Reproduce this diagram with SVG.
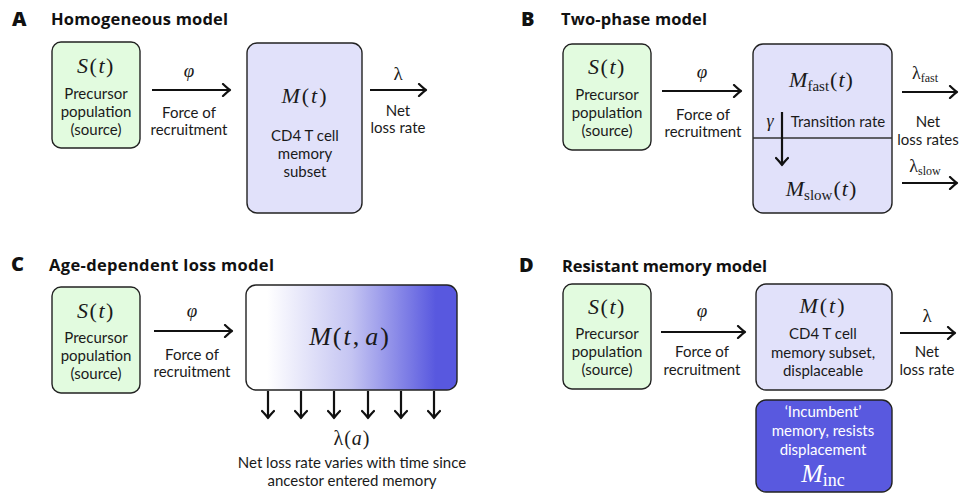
<svg xmlns="http://www.w3.org/2000/svg" width="972" height="493" viewBox="0 0 972 493">
  <defs>
    <style>
      .bg { fill: #ffffff; }
      .src { fill: #e2fbdf; stroke: #222; stroke-width: 1.4; }
      .mem { fill: #e1e1fa; stroke: #222; stroke-width: 1.4; }
      .inc { fill: #5959df; stroke: #222; stroke-width: 1.4; }
      .age { fill: url(#ageGrad); stroke: #222; stroke-width: 1.4; }
      .lbl { font-family: Lato, "Liberation Sans", sans-serif; font-size: 15px; fill: #1a1a1a; text-anchor: middle; }
      .wlbl { fill: #ffffff; }
      .math { font-family: "Liberation Serif", "Times New Roman", serif; font-style: italic; fill: #1a1a1a; text-anchor: middle; }
      .up { font-style: normal; }
      .title { font-family: "Open Sans", "Liberation Sans", sans-serif; font-weight: bold; font-size: 16.5px; fill: #111; }
      .letter { font-family: "Open Sans", "Liberation Sans", sans-serif; font-weight: 800; font-size: 20px; fill: #111; }
      .arr { stroke: #111; stroke-width: 2.2; fill: none; marker-end: url(#head); }
      .thin { stroke: #333; stroke-width: 1.4; }
    </style>
    <marker id="head" viewBox="-9 -7 11 14" refX="0" refY="0" markerWidth="11" markerHeight="14" markerUnits="userSpaceOnUse" orient="auto">
      <path d="M-7,-6 Q-2,-1.2 0,0 Q-2,1.2 -7,6" fill="none" stroke="#111" stroke-width="2.2" stroke-linecap="round" stroke-linejoin="round"/>
    </marker>
    <linearGradient id="ageGrad" x1="0" y1="0" x2="1" y2="0">
      <stop offset="0" stop-color="#ffffff"/>
      <stop offset="0.1" stop-color="#ffffff"/>
      <stop offset="0.5" stop-color="#c4c4f2"/>
      <stop offset="0.9" stop-color="#5858df"/>
      <stop offset="1" stop-color="#5858df"/>
    </linearGradient>
  </defs>

  <rect class="bg" x="0" y="0" width="972" height="493"/>

  <!-- Panel A: homogeneous model -->
  <g id="panelA">
    <text class="letter" x="12" y="26">A</text>
    <text class="title" x="51" y="25" textLength="177" lengthAdjust="spacing">Homogeneous model</text>
    <g id="A-source">
      <rect class="src" x="52" y="42" width="88" height="106" rx="9"/>
      <text class="math" x="96" y="73" font-size="22" letter-spacing="1.5">S<tspan class="up">(</tspan>t<tspan class="up">)</tspan></text>
      <text class="lbl" x="96" y="99">Precursor</text>
      <text class="lbl" x="96" y="117">population</text>
      <text class="lbl" x="96" y="135">(source)</text>
    </g>
    <g id="A-memory">
      <rect class="mem" x="247" y="43" width="115" height="170" rx="10"/>
      <text class="math" x="305" y="103" font-size="22" letter-spacing="2">M<tspan class="up">(</tspan>t<tspan class="up">)</tspan></text>
      <text class="lbl" x="305" y="141">CD4 T cell</text>
      <text class="lbl" x="305" y="159">memory</text>
      <text class="lbl" x="305" y="177">subset</text>
    </g>
    <g id="A-connectors">
      <line class="arr" x1="152" y1="90" x2="230" y2="90"/>
      <line class="arr" x1="370" y1="90" x2="426" y2="90"/>
    </g>
    <text class="math" x="189" y="77" font-size="19">φ</text>
    <text class="lbl" x="189" y="118">Force of</text>
    <text class="lbl" x="189" y="135">recruitment</text>
    <text class="math up" x="398" y="80" font-size="19">λ</text>
    <text class="lbl" x="398" y="116">Net</text>
    <text class="lbl" x="398" y="133">loss rate</text>
  </g>

  <!-- Panel B: two-phase model -->
  <g id="panelB">
    <text class="letter" x="521" y="26">B</text>
    <text class="title" x="561" y="25" textLength="146" lengthAdjust="spacing">Two-phase model</text>
    <g id="B-source">
      <rect class="src" x="563" y="44" width="88" height="106" rx="9"/>
      <text class="math" x="607" y="74" font-size="22" letter-spacing="1.5">S<tspan class="up">(</tspan>t<tspan class="up">)</tspan></text>
      <text class="lbl" x="607" y="100">Precursor</text>
      <text class="lbl" x="607" y="118">population</text>
      <text class="lbl" x="607" y="136">(source)</text>
    </g>
    <g id="B-memory">
      <rect class="mem" x="753" y="44" width="139" height="169" rx="10"/>
      <line class="thin" x1="753" y1="138" x2="892" y2="138"/>
      <text class="math" x="821" y="87" font-size="22">M<tspan class="up" font-size="15" dy="4">fast</tspan><tspan class="up" dy="-4" dx="1">(</tspan><tspan dx="1">t</tspan><tspan class="up" dx="1">)</tspan></text>
      <text class="math" x="821" y="196" font-size="22">M<tspan class="up" font-size="15" dy="4">slow</tspan><tspan class="up" dy="-4" dx="1">(</tspan><tspan dx="1">t</tspan><tspan class="up" dx="1">)</tspan></text>
      <text class="math" x="770" y="127" font-size="18">γ</text>
      <text class="lbl" x="838" y="127">Transition rate</text>
    </g>
    <g id="B-connectors">
      <line class="arr" x1="662" y1="91" x2="741" y2="91"/>
      <line class="arr" x1="782" y1="112" x2="782" y2="165"/>
      <line class="arr" x1="902" y1="92" x2="957" y2="92"/>
      <line class="arr" x1="902" y1="183" x2="957" y2="183"/>
    </g>
    <text class="math" x="702" y="78" font-size="19">φ</text>
    <text class="lbl" x="703" y="120">Force of</text>
    <text class="lbl" x="703" y="137">recruitment</text>
    <text class="math up" x="925" y="79" font-size="18">λ<tspan font-size="12" dy="3">fast</tspan></text>
    <text class="lbl" x="928" y="127">Net</text>
    <text class="lbl" x="928" y="145">loss rates</text>
    <text class="math up" x="925" y="172" font-size="18">λ<tspan font-size="12" dy="3">slow</tspan></text>
  </g>

  <!-- Panel C: age-dependent loss model -->
  <g id="panelC">
    <text class="letter" x="11" y="271">C</text>
    <text class="title" x="49" y="271" textLength="225" lengthAdjust="spacing">Age-dependent loss model</text>
    <g id="C-source">
      <rect class="src" x="52" y="287" width="88" height="106" rx="9"/>
      <text class="math" x="96" y="318" font-size="22" letter-spacing="1.5">S<tspan class="up">(</tspan>t<tspan class="up">)</tspan></text>
      <text class="lbl" x="96" y="343">Precursor</text>
      <text class="lbl" x="96" y="361">population</text>
      <text class="lbl" x="96" y="379">(source)</text>
    </g>
    <g id="C-memory">
      <rect class="age" x="246" y="285" width="211" height="105" rx="10"/>
      <text class="math" x="350" y="345" font-size="26" letter-spacing="2">M<tspan class="up">(</tspan>t<tspan class="up">,</tspan><tspan dx="4">a</tspan><tspan class="up">)</tspan></text>
    </g>
    <g id="C-connectors">
      <line class="arr" x1="154" y1="331" x2="232" y2="331"/>
      <line class="arr" x1="268" y1="391" x2="268" y2="418"/>
      <line class="arr" x1="301" y1="391" x2="301" y2="418"/>
      <line class="arr" x1="334" y1="391" x2="334" y2="418"/>
      <line class="arr" x1="368" y1="391" x2="368" y2="418"/>
      <line class="arr" x1="401" y1="391" x2="401" y2="418"/>
      <line class="arr" x1="434" y1="391" x2="434" y2="418"/>
    </g>
    <text class="math" x="192" y="317" font-size="19">φ</text>
    <text class="lbl" x="192" y="360">Force of</text>
    <text class="lbl" x="192" y="377">recruitment</text>
    <text class="math" x="352" y="445" font-size="20" letter-spacing="1"><tspan class="up">λ(</tspan>a<tspan class="up">)</tspan></text>
    <text class="lbl" x="352" y="468">Net loss rate varies with time since</text>
    <text class="lbl" x="352" y="486">ancestor entered memory</text>
  </g>

  <!-- Panel D: resistant memory model -->
  <g id="panelD">
    <text class="letter" x="519" y="272">D</text>
    <text class="title" x="562" y="272" textLength="205" lengthAdjust="spacing">Resistant memory model</text>
    <g id="D-source">
      <rect class="src" x="563" y="284" width="88" height="105" rx="9"/>
      <text class="math" x="607" y="314" font-size="22" letter-spacing="1.5">S<tspan class="up">(</tspan>t<tspan class="up">)</tspan></text>
      <text class="lbl" x="607" y="339">Precursor</text>
      <text class="lbl" x="607" y="357">population</text>
      <text class="lbl" x="607" y="375">(source)</text>
    </g>
    <g id="D-memory">
      <rect class="mem" x="756" y="284" width="136" height="106" rx="10"/>
      <text class="math" x="823" y="313" font-size="22" letter-spacing="2">M<tspan class="up">(</tspan>t<tspan class="up">)</tspan></text>
      <text class="lbl" x="823" y="339">CD4 T cell</text>
      <text class="lbl" x="823" y="358">memory subset,</text>
      <text class="lbl" x="823" y="376">displaceable</text>
    </g>
    <g id="D-incumbent">
      <rect class="inc" x="756" y="400" width="136" height="92" rx="10"/>
      <text class="lbl wlbl" x="823" y="417">‘Incumbent’</text>
      <text class="lbl wlbl" x="823" y="436">memory, resists</text>
      <text class="lbl wlbl" x="823" y="455">displacement</text>
      <text class="math" x="823" y="482" font-size="26" style="fill:#ffffff">M<tspan class="up" font-size="18" dy="4">inc</tspan></text>
    </g>
    <g id="D-connectors">
      <line class="arr" x1="661" y1="332" x2="745" y2="332"/>
      <line class="arr" x1="900" y1="333" x2="955" y2="333"/>
    </g>
    <text class="math" x="702" y="317" font-size="19">φ</text>
    <text class="lbl" x="702" y="357">Force of</text>
    <text class="lbl" x="702" y="375">recruitment</text>
    <text class="math up" x="927" y="322" font-size="19">λ</text>
    <text class="lbl" x="927" y="357">Net</text>
    <text class="lbl" x="927" y="375">loss rate</text>
  </g>
</svg>
